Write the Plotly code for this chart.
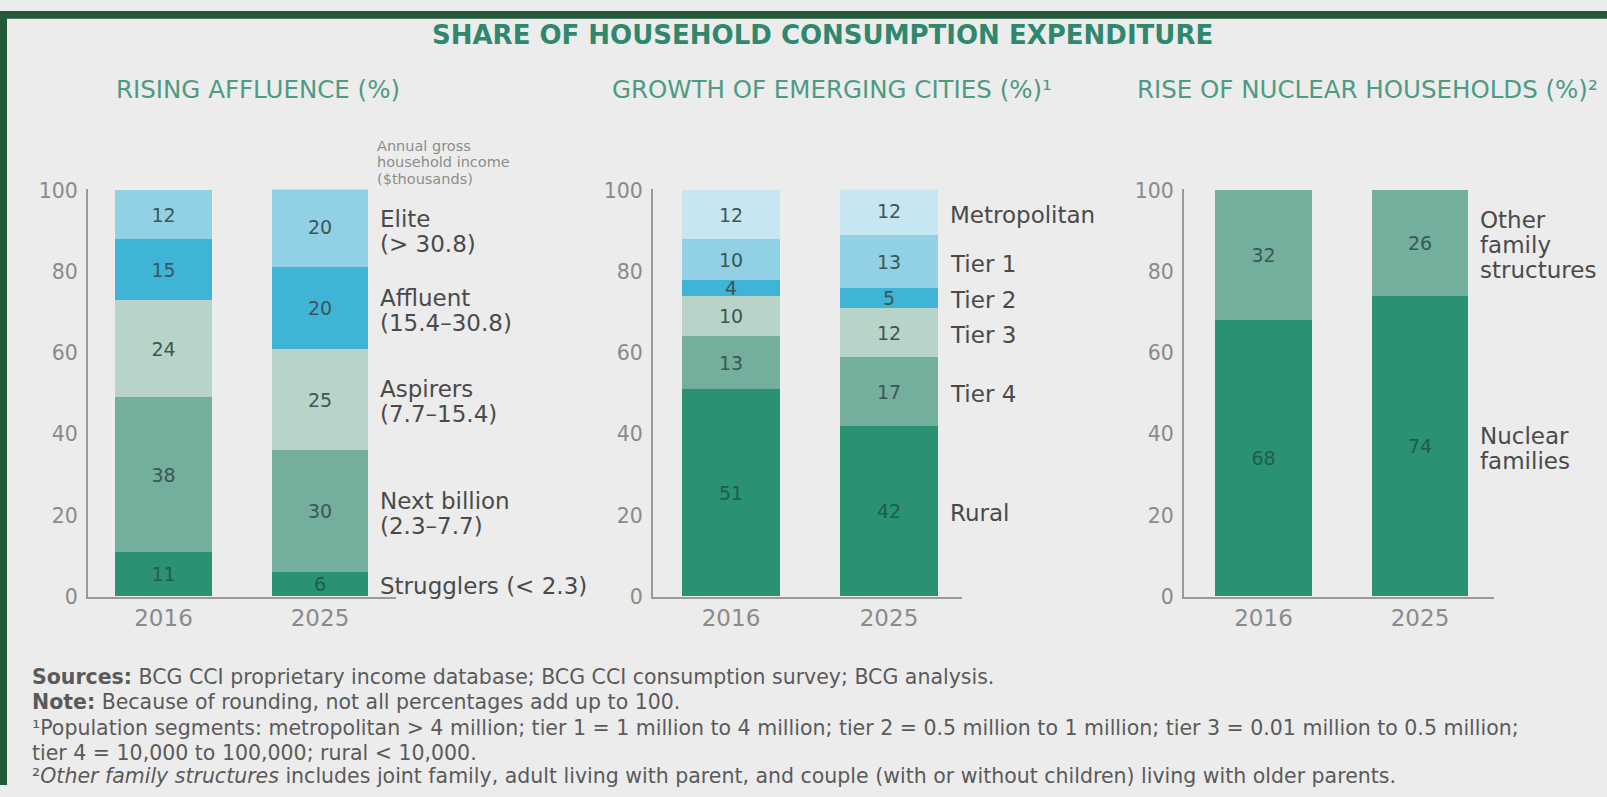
import plotly.graph_objects as go

# chart data
years = ["2016", "2025"]

affluence_segments = ["Strugglers (< 2.3)", "Next billion<br>(2.3–7.7)", "Aspirers<br>(7.7–15.4)",
                      "Affluent<br>(15.4–30.8)", "Elite<br>(> 30.8)"]
affluence_2016 = [11, 38, 24, 15, 12]
affluence_2025 = [6, 30, 25, 20, 20]

city_segments = ["Rural", "Tier 4", "Tier 3", "Tier 2", "Tier 1", "Metropolitan"]
city_2016 = [51, 13, 10, 4, 10, 12]
city_2025 = [42, 17, 12, 5, 13, 12]

family_segments = ["Nuclear<br>families", "Other<br>family<br>structures"]
family_2016 = [68, 32]
family_2025 = [74, 26]

W, H = 1607, 797
BG = "#ececec"
FONT = "DejaVu Sans"
DARK = "#2a9173"
MID = "#74ae9c"
LIGHT = "#b8d4c9"
CYAN = "#3fb4d7"
SKY = "#92d0e6"
PALE = "#c6e6f2"

panels = [
    dict(ax="", segs=affluence_segments, a=affluence_2016, b=affluence_2025,
         colors=[DARK, MID, LIGHT, CYAN, SKY], links=[3, 5],
         axis_px=88, c0=163.5, step=156.5, right_px=396),
    dict(ax="2", segs=city_segments, a=city_2016, b=city_2025,
         colors=[DARK, MID, LIGHT, CYAN, SKY, PALE], links=[1, 4],
         axis_px=653, c0=731, step=158, right_px=962),
    dict(ax="3", segs=family_segments, a=family_2016, b=family_2025,
         colors=[DARK, MID], links=[],
         axis_px=1184, c0=1263.5, step=156.5, right_px=1494),
]

bw = 0.615
ytop = 100.3
Y0, Y100 = 603, 185          # pixel rows of 0 and 100
ppu = (Y0 - Y100) / 100
fig = go.Figure()
layout = {}
annotations = []

for p in panels:
    xa, ya = "x" + p["ax"], "y" + p["ax"]
    for i, seg in enumerate(p["segs"]):
        txtcol = "#1f5e4b" if p["colors"][i] == DARK else "#3b5755"
        fig.add_trace(go.Bar(
            x=years, y=[p["a"][i], p["b"][i]], width=bw,
            marker=dict(color=p["colors"][i], line=dict(width=0)),
            text=[p["a"][i], p["b"][i]], textposition="inside",
            insidetextanchor="middle", textangle=0,
            textfont=dict(family=FONT, size=19, color=txtcol),
            xaxis=xa, yaxis=ya, showlegend=False, hoverinfo="skip"))
        # segment label at the middle of the 2025 segment
        mid = sum(p["b"][:i]) + p["b"][i] / 2
        mid = min(mid, (sum(p["b"][:i]) + 100) / 2)
        lines = seg.split("<br>")
        for j, ln in enumerate(lines):
            annotations.append(dict(
                x=1 + bw / 2 + 0.065, y=mid, xref=xa, yref=ya, xanchor="left",
                yanchor="middle", text=ln, showarrow=False,
                yshift=-((j - (len(lines) - 1) / 2) * 25) - 2,
                font=dict(family=FONT, size=23, color="#4a4a4a")))
    # connector lines between bars
    for k in p["links"]:
        fig.add_trace(go.Scatter(
            x=[bw / 2, 1 - bw / 2],
            y=[min(sum(p["a"][:k]), 100), min(sum(p["b"][:k]), 100)],
            mode="lines", line=dict(color="#8c8c8c", width=1.5),
            xaxis=xa, yaxis=ya, showlegend=False, hoverinfo="skip",
            cliponaxis=False))
    left = -(p["c0"] - p["axis_px"]) / p["step"]
    right = (p["right_px"] - p["c0"]) / p["step"]
    layout["xaxis" + p["ax"]] = dict(
        domain=[p["axis_px"] / W, p["right_px"] / W], range=[left, right],
        type="category", showline=True, linecolor="#9a9a9a", linewidth=2,
        showgrid=False, zeroline=False, ticks="", ticklabelstandoff=0,
        tickfont=dict(family=FONT, size=23, color="#8a8a8a"), anchor=ya)
    layout["yaxis" + p["ax"]] = dict(
        domain=[1 - Y0 / H, 1 - (Y100 - (ytop - 100) * ppu) / H], range=[0, ytop],
        tickvals=[0, 20, 40, 60, 80, 100], showline=True, linecolor="#9a9a9a",
        linewidth=2, showgrid=False, zeroline=False, ticks="", ticklabelstandoff=4,
        tickfont=dict(family=FONT, size=20.5, color="#8a8a8a"), anchor=xa)

# titles
annotations.append(dict(x=822 / W, y=1 - 25 / H, xref="paper", yref="paper",
                        xanchor="center", yanchor="middle",
                        text="SHARE OF HOUSEHOLD CONSUMPTION EXPENDITURE", showarrow=False,
                        font=dict(family=FONT, size=26, color="#2f876c", weight="bold")))
for cx, t in [(258, "RISING AFFLUENCE (%)"), (832, "GROWTH OF EMERGING CITIES (%)¹"),
              (1367, "RISE OF NUCLEAR HOUSEHOLDS (%)²")]:
    annotations.append(dict(x=cx / W, y=1 - 81 / H, xref="paper", yref="paper", text=t,
                            xanchor="center", yanchor="middle", showarrow=False,
                            font=dict(family=FONT, size=24.5, color="#4d9b84")))

for yy, t in zip([139, 156, 173], ["Annual gross", "household income", "($thousands)"]):
    annotations.append(dict(x=375 / W, y=1 - yy / H, xref="paper", yref="paper",
                            xanchor="left", yanchor="middle", showarrow=False, text=t,
                            font=dict(family=FONT, size=14.5, color="#8c8c8c")))

notes = [
    "<b>Sources:</b> BCG CCI proprietary income database; BCG CCI consumption survey; BCG analysis.",
    "<b>Note:</b> Because of rounding, not all percentages add up to 100.",
    "¹Population segments: metropolitan > 4 million; tier 1 = 1 million to 4 million; tier 2 = 0.5 million to 1 million; tier 3 = 0.01 million to 0.5 million;",
    "tier 4 = 10,000 to 100,000; rural < 10,000.",
    "²<i>Other family structures</i> includes joint family, adult living with parent, and couple (with or without children) living with older parents.",
]
for yy, t in zip([686, 712, 738, 764, 788], notes):
    annotations.append(dict(x=30 / W, y=1 - yy / H, xref="paper", yref="paper", xanchor="left",
                            yanchor="middle", text=t, showarrow=False,
                            font=dict(family=FONT, size=20.5, color="#5a5a5a")))

fig.update_layout(
    width=W, height=H, margin=dict(l=0, r=0, t=0, b=0),
    paper_bgcolor=BG, plot_bgcolor=BG, barmode="stack", bargap=0,
    uniformtext=dict(minsize=19, mode="show"),
    annotations=annotations,
    shapes=[
        dict(type="rect", xref="paper", yref="paper", x0=0, x1=7 / W, y0=0, y1=1,
             fillcolor="#245a3a", line=dict(width=0), layer="above"),
        dict(type="rect", xref="paper", yref="paper", x0=0, x1=1, y0=1 - 8 / H, y1=1,
             fillcolor="#245a3a", line=dict(width=0), layer="above"),
    ],
    **layout,
)

# pin the graph to the top-left corner of the page
pin = ("document.documentElement.style.background='" + BG + "';"
       "document.body.style.margin='0';document.body.style.overflow='hidden';"
       "var d=document.getElementById('{plot_id}');d.style.position='fixed';"
       "d.style.left='0px';d.style.top='0px';")
fig.write_html("out.html", config={"displayModeBar": False}, post_script=pin)
